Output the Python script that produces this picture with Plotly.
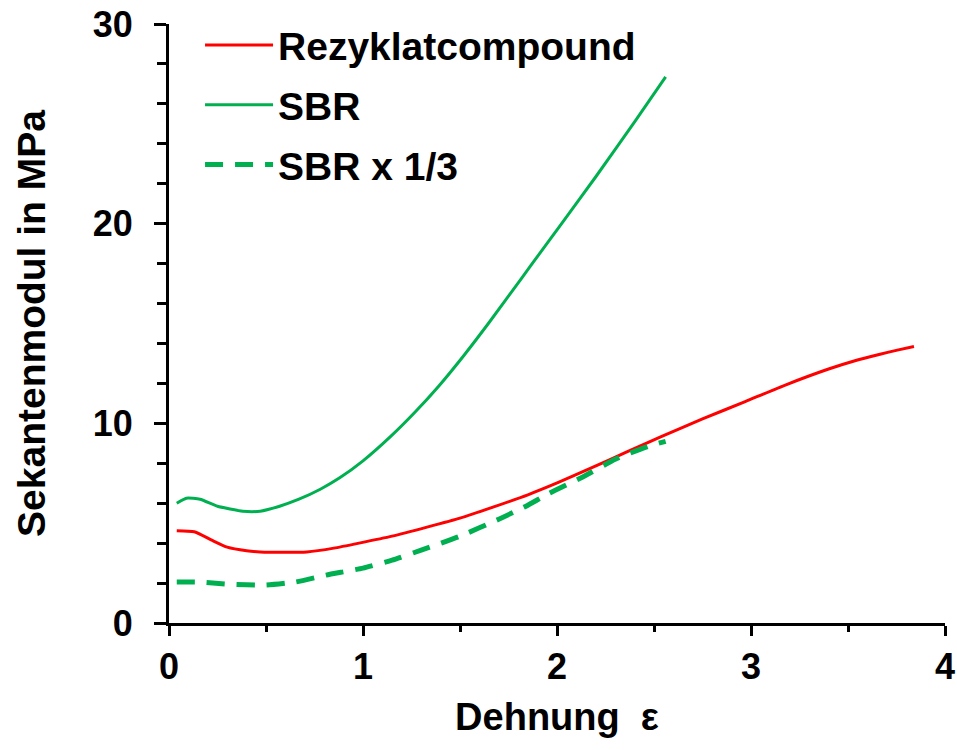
import plotly.graph_objects as go

# Rezyklatcompound
rez_x = [0.04, 0.13, 0.22, 0.30, 0.40, 0.47, 0.60, 0.71, 0.85, 0.98, 1.15, 1.33, 1.50, 1.67, 1.85, 2.01, 2.18, 2.36, 2.54, 2.75, 2.97, 3.18, 3.40, 3.54, 3.66, 3.76, 3.84]
rez_y = [4.62, 4.57, 4.15, 3.80, 3.62, 3.56, 3.54, 3.56, 3.75, 4.00, 4.35, 4.80, 5.25, 5.80, 6.42, 7.05, 7.78, 8.57, 9.35, 10.22, 11.09, 11.93, 12.72, 13.15, 13.45, 13.68, 13.85]

# SBR
sbr_x = [0.04, 0.09, 0.16, 0.25, 0.38, 0.47, 0.57, 0.67, 0.78, 0.88, 1.00, 1.14, 1.27, 1.39, 1.52, 1.65, 1.82, 1.91, 2.02, 2.20, 2.40, 2.56]
sbr_y = [6.00, 6.25, 6.20, 5.85, 5.60, 5.60, 5.85, 6.20, 6.70, 7.27, 8.12, 9.32, 10.58, 11.86, 13.40, 15.05, 17.30, 18.50, 19.95, 22.35, 25.10, 27.35]

# SBR x 1/3
sbr3_x = [0.04, 0.15, 0.30, 0.50, 0.65, 0.81, 1.00, 1.15, 1.30, 1.50, 1.70, 1.84, 1.96, 2.13, 2.30, 2.47, 2.56]
sbr3_y = [2.05, 2.05, 1.95, 1.90, 2.05, 2.40, 2.75, 3.15, 3.65, 4.35, 5.20, 5.85, 6.50, 7.30, 8.20, 8.85, 9.10]

RED = "#FF0000"
GREEN = "#00B050"
FONT = "Liberation Sans, Arial, sans-serif"

fig = go.Figure()
fig.add_trace(go.Scatter(x=rez_x, y=rez_y, mode="lines", name="Rezyklatcompound",
                         line=dict(color=RED, width=3, shape="spline", smoothing=0.5),
                         legendgroup="a"))
fig.add_trace(go.Scatter(x=sbr_x, y=sbr_y, mode="lines", name="SBR",
                         line=dict(color=GREEN, width=3, shape="spline", smoothing=0.5),
                         legendgroup="b"))
fig.add_trace(go.Scatter(x=sbr3_x, y=sbr3_y, mode="lines", name="SBR x 1/3",
                         line=dict(color=GREEN, width=5, dash="18px,12px", shape="spline", smoothing=0.5),
                         legendgroup="c"))

fig.update_layout(
    width=957, height=750,
    margin=dict(l=169, r=12, t=24, b=127),
    paper_bgcolor="white", plot_bgcolor="white",
    font=dict(family=FONT, size=36, color="black"),
    showlegend=True,
    legend=dict(x=0.04, y=1.018, xanchor="left", yanchor="top",
                font=dict(family=FONT, size=39, color="black", weight="bold"),
                bgcolor="rgba(0,0,0,0)", tracegroupgap=6, traceorder="grouped",
                itemwidth=68),
    xaxis=dict(range=[0, 4], showgrid=False, zeroline=False, automargin=False,
               showline=True, linecolor="black", linewidth=3,
               ticks="outside", ticklen=10, tickwidth=3, tickcolor="black",
               tickvals=[0, 1, 2, 3, 4], ticktext=["0", "1", "2", "3", "4"],
               tickfont=dict(family=FONT, size=36, weight="bold"),
               ticklabeloverflow="allow",
               minor=dict(dtick=0.5, ticks="outside", ticklen=6, tickwidth=3, tickcolor="black", showgrid=False),
               title=dict(text="Dehnung\u00a0\u00a0\u03b5", font=dict(family=FONT, size=38, weight="bold"), standoff=18)),
    yaxis=dict(range=[0, 30], showgrid=False, zeroline=False, automargin=False,
               showline=True, linecolor="black", linewidth=3,
               ticks="outside", ticklen=12, tickwidth=3, tickcolor="black",
               tickvals=[0, 10, 20, 30], ticktext=["0", "10", "20", "30"],
               tickfont=dict(family=FONT, size=36, weight="bold"),
               ticklabelstandoff=14,
               minor=dict(dtick=2, ticks="outside", ticklen=9, tickwidth=3, tickcolor="black", showgrid=False),
               title=dict(text="Sekantenmodul in MPa", font=dict(family=FONT, size=39, weight="bold"), standoff=36)),
)

fig.write_html("out.html")
